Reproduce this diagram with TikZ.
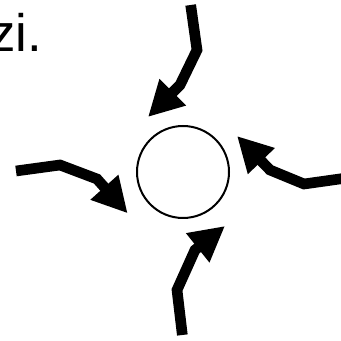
\documentclass[tikz,border=0pt]{standalone}
\usepackage{fontspec}
\setmainfont{Liberation Sans}
\usetikzlibrary{arrows.meta}

\begin{document}
\begin{tikzpicture}[
  ring/.style={draw=black,circle,line width=0.06cm,inner sep=0pt,
               minimum size=2.76cm},
  arr/.style={line width=0.32cm,line join=miter,
              -{Triangle[length=1.05cm,width=1.05cm]}},
  lbl/.style={font=\fontsize{45}{50}\selectfont,anchor=base west,
              inner sep=0pt}]
\useasboundingbox (0,0) rectangle (10.23,10.2);

%% text at top left
\node[lbl] (zi) at (-0.33,8.64) {zi.};

%% circle in the middle
\node[ring] (hub) at (5.49,5.04) {};

%% arrow from the top
\coordinate (n0) at (5.72,10.05);
\coordinate (n1) at (5.91,8.70);
\coordinate (n2) at (5.40,7.65);
\coordinate (n3) at (4.44,6.69);
\draw[arr] (n0)--(n1)--(n2)--(n3);

%% arrow from the right
\coordinate (e0) at (10.4,4.86);
\coordinate (e1) at (9.12,4.68);
\coordinate (e2) at (8.10,5.10);
\coordinate (e3) at (7.11,6.12);
\draw[arr] (e0)--(e1)--(e2)--(e3);

%% arrow from the left
\coordinate (w0) at (0.48,5.07);
\coordinate (w1) at (1.80,5.25);
\coordinate (w2) at (2.91,4.83);
\coordinate (w3) at (3.83,3.80);
\draw[arr] (w0)--(w1)--(w2)--(w3);

%% arrow from the bottom
\coordinate (s0) at (5.47,0.15);
\coordinate (s1) at (5.31,1.50);
\coordinate (s2) at (5.85,2.70);
\coordinate (s3) at (6.75,3.42);
\draw[arr] (s0)--(s1)--(s2)--(s3);
\end{tikzpicture}
\end{document}
